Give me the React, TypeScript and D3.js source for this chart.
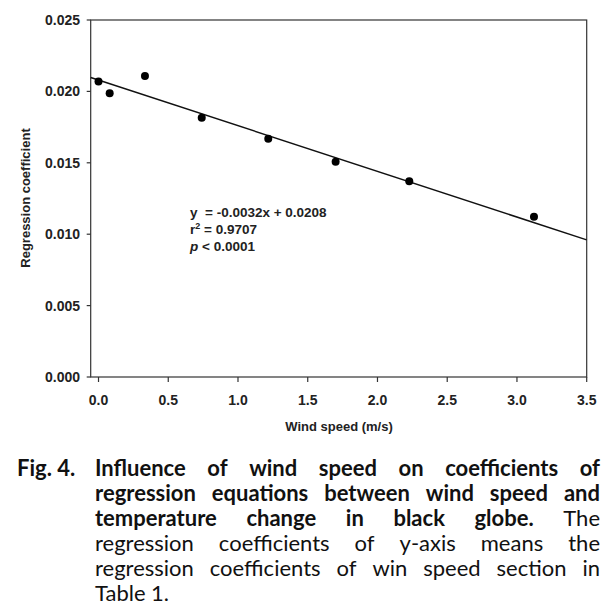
import React, { useEffect, useRef } from "react";
import * as d3 from "d3";

const X_VALUES = [0, 0.08, 0.333, 0.74, 1.217, 1.7, 2.228, 3.122];
const Y_VALUES = [0.0207, 0.01987, 0.02108, 0.01816, 0.01669, 0.01508, 0.0137, 0.01123];
const X_TICKS = [0, 0.5, 1.0, 1.5, 2.0, 2.5, 3.0, 3.5];
const Y_TICKS = [0, 0.005, 0.01, 0.015, 0.02, 0.025];
const SLOPE = -0.0032;
const INTERCEPT = 0.0208;
const X_TITLE = "Wind speed (m/s)";
const Y_TITLE = "Regression coefficient";
const CAPTION_LABEL = "Fig. 4.";
const CAPTION_LINES: { words: { t: string; b: boolean }[]; justify: boolean }[] = [
  { words: "Influence of wind speed on coefficients of".split(" ").map((t) => ({ t, b: true })), justify: true },
  { words: "regression equations between wind speed and".split(" ").map((t) => ({ t, b: true })), justify: true },
  {
    words: [
      ..."temperature change in black globe.".split(" ").map((t) => ({ t, b: true })),
      { t: "The", b: false },
    ],
    justify: true,
  },
  { words: "regression coefficients of y-axis means the".split(" ").map((t) => ({ t, b: false })), justify: true },
  { words: "regression coefficients of win speed section in".split(" ").map((t) => ({ t, b: false })), justify: true },
  { words: "Table 1.".split(" ").map((t) => ({ t, b: false })), justify: false },
];

const W = 616;
const H = 615;
const L = 90.7, R = 586.7, T = 20, B = 377;
const CAP_FONT = "Lato, 'Open Sans', sans-serif";

export default function App() {
  const capRef = useRef<SVGGElement | null>(null);

  const x = d3.scaleLinear().domain([-0.056, 3.5]).range([L, R]);
  const y = d3.scaleLinear().domain([0, 0.025]).range([B, T]);
  const lineGen = d3
    .line<number>()
    .x((d) => x(d))
    .y((d) => y(SLOPE * d + INTERCEPT));
  const fitPath = lineGen([x.domain()[0], x.domain()[1]]) || "";

  useEffect(() => {
    const g = d3.select(capRef.current);
    g.selectAll("*").remove();
    const left = 95, right = 600, base0 = 476, step = 25, size = 22;
    g.append("text")
      .attr("x", 17)
      .attr("y", base0)
      .attr("font-family", CAP_FONT)
      .attr("font-weight", "bold")
      .attr("font-size", size)
      .attr("fill", "#111")
      .text(CAPTION_LABEL);
    CAPTION_LINES.forEach((ln, i) => {
      const by = base0 + i * step;
      const nodes = ln.words.map((w) =>
        g
          .append("text")
          .attr("y", by)
          .attr("font-family", CAP_FONT)
          .attr("font-weight", w.b ? "bold" : "normal")
          .attr("font-size", size)
          .attr("fill", "#111")
          .text(w.t)
      );
      const widths = nodes.map((n) => (n.node() as SVGTextElement).getComputedTextLength());
      const total = widths.reduce((a, b) => a + b, 0);
      let gap = size * 0.25;
      if (ln.justify && nodes.length > 1) gap = (right - left - total) / (nodes.length - 1);
      let cx = left;
      nodes.forEach((n, k) => {
        n.attr("x", cx);
        cx += widths[k] + gap;
      });
    });
  }, []);

  return (
    <div style={{ position: "absolute", left: 0, top: 0, width: W, height: H, background: "#fff" }}>
      <svg width={W} height={H} style={{ display: "block" }}>
        <rect x={0} y={0} width={W} height={H} fill="#fff" />
        {/* frame */}
        <rect x={L} y={T} width={R - L} height={B - T} fill="none" stroke="#333" strokeWidth={1.2} />
        {/* y ticks */}
        {Y_TICKS.map((t) => (
          <g key={"y" + t}>
            <line x1={L - 4} x2={L} y1={y(t)} y2={y(t)} stroke="#333" strokeWidth={1.2} />
            <text
              x={80}
              y={y(t)}
              dy="0.36em"
              textAnchor="end"
              fontFamily="Arial, 'Liberation Sans', sans-serif"
              fontWeight="bold"
              fontSize={14}
              fill="#222"
            >
              {d3.format(".3f")(t)}
            </text>
          </g>
        ))}
        {/* x ticks */}
        {X_TICKS.map((t) => (
          <g key={"x" + t}>
            <line x1={x(t)} x2={x(t)} y1={B} y2={B + 5} stroke="#333" strokeWidth={1.2} />
            <text
              x={x(t)}
              y={405}
              textAnchor="middle"
              fontFamily="Arial, 'Liberation Sans', sans-serif"
              fontWeight="bold"
              fontSize={14}
              fill="#222"
            >
              {d3.format(".1f")(t)}
            </text>
          </g>
        ))}
        {/* axis titles */}
        <text
          x={339}
          y={431}
          textAnchor="middle"
          fontFamily="Arial, 'Liberation Sans', sans-serif"
          fontWeight="bold"
          fontSize={13}
          fill="#222"
        >
          {X_TITLE}
        </text>
        <text
          transform="translate(30,198) rotate(-90)"
          textAnchor="middle"
          fontFamily="Arial, 'Liberation Sans', sans-serif"
          fontWeight="bold"
          fontSize={13}
          fill="#222"
        >
          {Y_TITLE}
        </text>
        {/* regression line */}
        <path d={fitPath} fill="none" stroke="#111" strokeWidth={1.5} />
        {/* points */}
        {X_VALUES.map((xv, i) => (
          <circle key={i} cx={x(xv)} cy={y(Y_VALUES[i])} r={4} fill="#000" />
        ))}
        {/* equation */}
        <g fontFamily="Arial, 'Liberation Sans', sans-serif" fontWeight="bold" fontSize={13.5} fill="#222">
          <text x={190} y={217} xmlSpace="preserve">
            {"y  = -0.0032x + 0.0208"}
          </text>
          <text x={190} y={234}>
            r<tspan dy={-5} fontSize={9}>2</tspan>
            <tspan dy={5}> = 0.9707</tspan>
          </text>
          <text x={190} y={251}>
            <tspan fontStyle="italic">p</tspan> &lt; 0.0001
          </text>
        </g>
        <g ref={capRef} />
      </svg>
    </div>
  );
}
